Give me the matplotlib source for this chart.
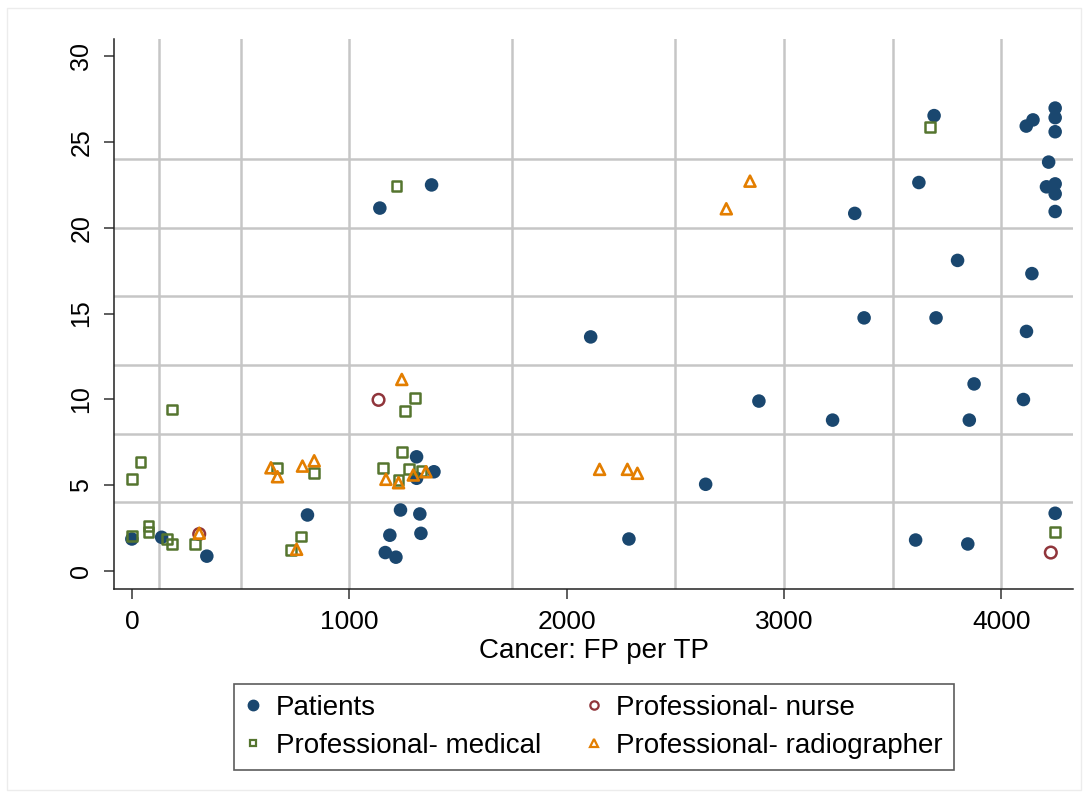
import matplotlib
matplotlib.use("Agg")
import matplotlib.pyplot as plt
from matplotlib.lines import Line2D
from matplotlib.patches import Rectangle

plt.rcParams['font.family'] = ['Liberation Sans', 'DejaVu Sans']

# Data (x = FP per TP, y = value on the vertical axis)
patients_x = [0, 137, 345, 808, 1141, 1379, 1310, 1310, 1390, 1236, 1325, 1187, 1330, 1166, 1215,
              2111, 2640, 2287, 2885, 3224, 3326, 3369, 3700, 3621, 3691, 3799, 3875, 3853, 3606, 3846,
              4102, 4116, 4141, 4115, 4146, 4248, 4248, 4248, 4218, 4208, 4248, 4248, 4248, 4248]
patients_y = [1.86, 1.96, 0.86, 3.26, 21.15, 22.5, 6.65, 5.4, 5.78, 3.55, 3.32, 2.08, 2.19, 1.07, 0.8,
              13.64, 5.05, 1.86, 9.9, 8.79, 20.84, 14.75, 14.75, 22.64, 26.54, 18.1, 10.9, 8.79, 1.8, 1.57,
              9.99, 13.96, 17.33, 25.93, 26.29, 26.98, 26.42, 25.6, 23.83, 22.39, 22.56, 21.98, 20.95, 3.36]

nurse_x = [310, 1135, 4228]
nurse_y = [2.15, 9.97, 1.07]

medical_x = [0, 40, 184, 0, 77, 77, 160, 185, 290, 668, 839, 779, 732,
             1157, 1242, 1275, 1333, 1227, 1302, 1256, 1218, 3671, 4248]
medical_y = [5.37, 6.36, 9.41, 2.04, 2.61, 2.29, 1.88, 1.55, 1.59, 5.98, 5.7, 2.01, 1.2,
             5.98, 6.93, 5.94, 5.82, 5.3, 10.09, 9.31, 22.43, 25.9, 2.25]

radio_x = [310, 640, 670, 785, 839, 758, 1242, 1169, 1227, 1295, 1353, 2152, 2280, 2326, 2735, 2844]
radio_y = [2.2, 6.01, 5.49, 6.11, 6.42, 1.26, 11.16, 5.34, 5.14, 5.59, 5.78, 5.92, 5.92, 5.69, 21.11, 22.72]

x_grid = [125, 500, 1000, 1750, 2500, 3000, 3500, 4000]
y_grid = [4, 8, 12, 16, 20, 24]
x_ticks = [0, 1000, 2000, 3000, 4000]
y_ticks = [0, 5, 10, 15, 20, 25, 30]

navy = '#1a476f'
maroon = '#90353b'
green = '#55752f'
orange = '#e37e00'
gridc = '#c6c6c6'

fig = plt.figure(figsize=(10.88, 7.98), dpi=100)
fig.patches.append(Rectangle((7 / 1088, 8 / 798), 1 - 14 / 1088, 1 - 16 / 798,
                             transform=fig.transFigure, fill=False,
                             edgecolor='#ececec', linewidth=1, zorder=0))
ax = fig.add_axes([0.105, 0.262, 0.881, 0.689])

for gx in x_grid:
    ax.axvline(gx, color=gridc, lw=1.8, zorder=1)
for gy in y_grid:
    ax.axhline(gy, color=gridc, lw=1.8, zorder=1)

ax.scatter(patients_x, patients_y, s=95, marker='o', color=navy, edgecolors='none', zorder=3)
ax.scatter(nurse_x, nurse_y, s=70, marker='o', facecolors='none', edgecolors=maroon, linewidths=1.8, zorder=4)
ax.scatter(medical_x, medical_y, s=50, marker='s', facecolors='none', edgecolors=green, linewidths=1.8, zorder=5)
ax.scatter(radio_x, radio_y, s=62, marker='^', facecolors='none', edgecolors=orange, linewidths=1.9, zorder=6)

ax.set_xlim(-81, 4329)
ax.set_ylim(-1.05, 31)
ax.set_xticks(x_ticks)
ax.set_yticks(y_ticks)
ax.tick_params(axis='both', length=7, width=1.1, color='#333333', pad=8)
ax.tick_params(axis='x', labelsize=19)
ax.tick_params(axis='y', labelsize=18)
for lab in ax.get_yticklabels():
    lab.set_rotation(90)
    lab.set_va('center')

ax.spines['top'].set_visible(False)
ax.spines['right'].set_visible(False)
for s in ['left', 'bottom']:
    ax.spines[s].set_linewidth(1.1)
    ax.spines[s].set_color('#222222')

ax.set_xlabel('Cancer: FP per TP', fontsize=20, labelpad=3)

handles = [
    Line2D([], [], ls='none', marker='o', ms=7.5, color=navy, markeredgecolor=navy),
    Line2D([], [], ls='none', marker='s', ms=5, markerfacecolor='none', markeredgecolor=green, mew=1.6),
    Line2D([], [], ls='none', marker='o', ms=6, markerfacecolor='none', markeredgecolor=maroon, mew=1.6),
    Line2D([], [], ls='none', marker='^', ms=6, markerfacecolor='none', markeredgecolor=orange, mew=1.6),
]
labels = ['Patients', 'Professional- medical', 'Professional- nurse', 'Professional- radiographer']
leg = fig.legend(handles, labels, ncol=2, loc='center', bbox_to_anchor=(0.5457, 0.089),
                 fontsize=20, frameon=True, fancybox=False, handlelength=0.6, handletextpad=0.5,
                 columnspacing=1.6, labelspacing=0.43, borderpad=0.4)
leg.get_frame().set_edgecolor('#333333')
leg.get_frame().set_linewidth(1.2)

plt.savefig('out.png', dpi=100)
